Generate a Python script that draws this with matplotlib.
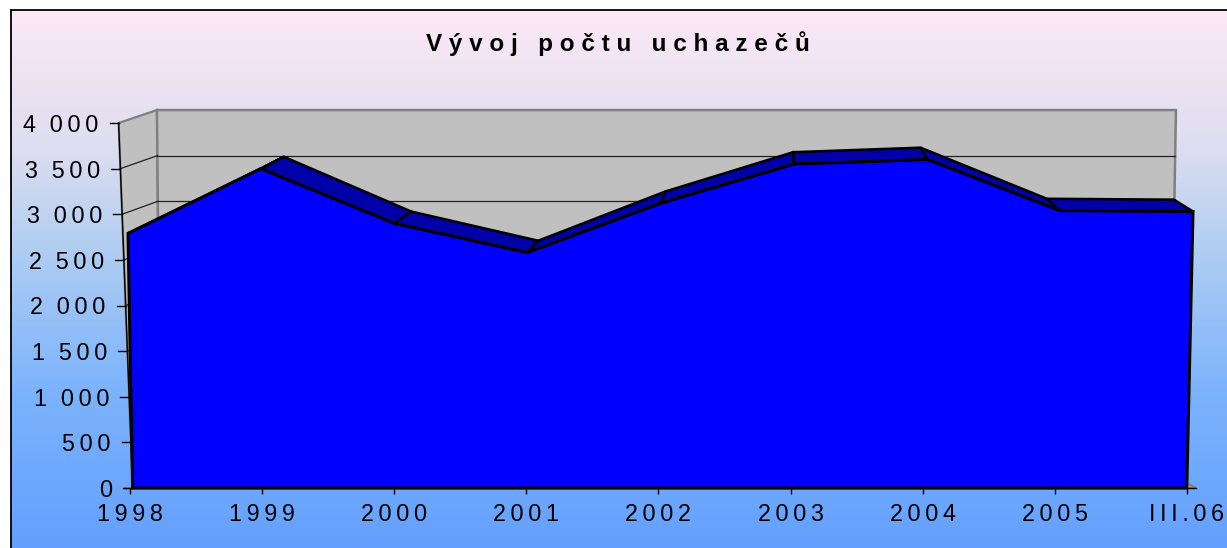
import numpy as np
import matplotlib.pyplot as plt

plt.rcParams['font.family'] = ['Liberation Sans', 'DejaVu Sans']

# Data
years = ['1998', '1999', '2000', '2001', '2002', '2003', '2004', '2005', 'III.06']
applicants = [2790, 3500, 2900, 2580, 3120, 3550, 3600, 3040, 3030]
y_ticks = [0, 500, 1000, 1500, 2000, 2500, 3000, 3500, 4000]
title = 'Vývoj počtu uchazečů'

THIN = '\u2009'


def spaced_title(s):
    return '   '.join(' '.join(word) for word in s.split(' '))


def spaced_tick(s):
    # wide tracking like the Excel original
    return (THIN * 3).join(THIN.join(part) for part in s.split(' '))


def y_label(v):
    return spaced_tick(f"{v:,}".replace(',', ' '))


W, H = 1227, 548
fig = plt.figure(figsize=(W / 100, H / 100), dpi=100)

# background gradient (pink at top -> blue at bottom)
stops = np.array([0.0, 0.25, 0.45, 0.7, 1.0])
cols = np.array([[252, 233, 246], [222, 222, 240], [175, 205, 242],
                 [125, 180, 252], [100, 160, 255]]) / 255
t = np.linspace(0, 1, 256)
grad = np.stack([np.interp(t, stops, cols[:, k]) for k in range(3)], axis=1)
grad = np.repeat(grad[:, None, :], 4, axis=1)
bg = fig.add_axes([11 / W, 0, 1 - 11 / W, (H - 10) / H])
bg.imshow(grad, aspect='auto', extent=[0, 1, 0, 1], interpolation='bilinear')
bg.set_xlim(0, 1)
bg.set_ylim(0, 1)
bg.set_xticks([])
bg.set_yticks([])
for side in ['right', 'bottom']:
    bg.spines[side].set_visible(False)
for side in ['left', 'top']:
    bg.spines[side].set_linewidth(1.3)

# main axes, mapped so that x=0..8 -> px 130..1187, y=0..4000 -> px 488..123
sx = 132.1
sy = 0.09125
x0, x1 = -0.055, 8.07
left_px = 130 + sx * x0
right_px = 130 + sx * x1
ax = fig.add_axes([left_px / W, (H - 488) / H, (right_px - left_px) / W, 4000 * sy / H])
ax.patch.set_alpha(0)
ax.set_xlim(x0, x1)
ax.set_ylim(0, 4000)


# slightly leaning value axis (3D perspective)
def axis_x(v):
    return 0.02 - 0.106 * v / 4000


# perspective of the front face
CX, K = 2.06, 2.61e-6


def face_x(x, v):
    return CX + (np.asarray(x, float) - CX) * (1 + K * np.asarray(v, float))


# walls and floor
wall_dy = 142
wl_top, wl_bot = 0.204, 0.23
wr_top, wr_bot = 7.918, 7.87
wall_fc, wall_ec = '#C0C0C0', '#808080'
ax.fill([axis_x(0), axis_x(4000), wl_top, wl_bot], [0, 4000, 4000 + wall_dy, wall_dy],
        fc=wall_fc, ec=wall_ec, lw=1.6, zorder=1, clip_on=False)
ax.fill([wl_bot, wl_top, wr_top, wr_bot],
        [wall_dy, 4000 + wall_dy, 4000 + wall_dy, wall_dy],
        fc=wall_fc, ec=wall_ec, lw=1.8, zorder=1, clip_on=False)
ax.fill([axis_x(0), x1, wr_bot, wl_bot], [0, 0, wall_dy, wall_dy],
        fc=wall_fc, ec=wall_ec, lw=1.6, zorder=1, clip_on=False)
for v in y_ticks[1:-1]:
    f = v / 4000
    xb_l = wl_bot + (wl_top - wl_bot) * f
    xb_r = wr_bot + (wr_top - wr_bot) * f
    ax.plot([axis_x(v), xb_l], [v, v + wall_dy], color='#202020', lw=0.9, zorder=1.5, clip_on=False)
    ax.plot([xb_l, xb_r], [v + wall_dy, v + wall_dy], color='#202020', lw=0.9,
            zorder=1.5, clip_on=False)

# 3D area: top band then front face
xs = np.arange(len(years))
top_x = face_x(xs, applicants)
depth_dx = np.linspace(0.22, -0.144, len(years))
depth_dy = 130
for i in range(len(years) - 1):
    bx = [top_x[i], top_x[i + 1], top_x[i + 1] + depth_dx[i + 1], top_x[i] + depth_dx[i]]
    by = [applicants[i], applicants[i + 1], applicants[i + 1] + depth_dy, applicants[i] + depth_dy]
    ax.fill(bx, by, fc='#0000A8', ec='black', lw=1.8, zorder=2, clip_on=False)
ax.fill(np.r_[0.02, top_x, xs[-1]], np.r_[0, applicants, 0],
        fc='#0000FF', ec='black', lw=2.2, zorder=3, clip_on=False)

# value axis drawn along the leaning front edge
ax.plot([axis_x(0), axis_x(4000)], [0, 4000], color='black', lw=1.0, zorder=5, clip_on=False)
tick_len = 9 / sx
for v in y_ticks:
    ax.plot([axis_x(v) - tick_len, axis_x(v)], [v, v], color='black', lw=1.0, zorder=5,
            clip_on=False)
    ax.text(axis_x(v) - 20 / sx, v, y_label(v), ha='right', va='center_baseline',
            fontsize=16.8, zorder=5)

# category axis
for side in ['top', 'right', 'left']:
    ax.spines[side].set_visible(False)
ax.spines['bottom'].set_bounds(axis_x(0) - 0.07, x1)
ax.spines['bottom'].set_zorder(5)
ax.spines['bottom'].set_linewidth(1.0)
ax.set_yticks([])
ax.set_xticks(xs, [spaced_tick(y) for y in years])
ax.tick_params(axis='x', direction='out', length=4, width=1, pad=7, labelsize=16.8)

fig.text(618 / W, 1 - 44 / H, spaced_title(title), ha='center', va='center',
         fontsize=17.5, fontweight='bold')

fig.savefig('out.png', dpi=100)
